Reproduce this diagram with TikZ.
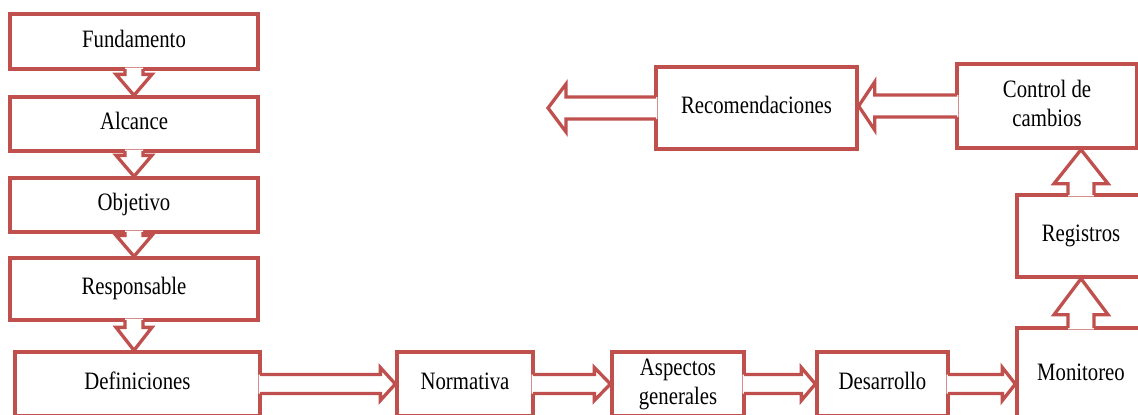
\documentclass[tikz,border=0pt]{standalone}
\usepackage{fontspec}
\setmainfont{Liberation Serif}
\usetikzlibrary{calc}
\definecolor{boxred}{HTML}{C0504D}
\tikzset{
  box/.style={draw=boxred, line width=3.3pt, fill=white, inner sep=0pt,
    text=black, font=\fontsize{25}{29}\selectfont},
  arrline/.style={draw=boxred, line width=3.3pt, line join=miter},
}
\newcommand\lbl[1]{\scalebox{0.83}[1]{\begin{tabular}{@{}c@{}}#1\end{tabular}}}
% block arrow: #1 start, #2 tip, #3 shaft half width, #4 head half width, #5 head length
\newcommand\barrow[5]{%
  \path let \p1=(#1), \p2=(#2),
    \n1={veclen(\x2-\x1,\y2-\y1)},
    \n2={(\x2-\x1)/\n1}, \n3={(\y2-\y1)/\n1},
    \n4={\n1-(#5)} in
    coordinate (q1) at ({\x1-3*\n2-(#3)*\n3},{\y1-3*\n3+(#3)*\n2})
    coordinate (r1) at ({\x1-1.65*\n2-(#3)*\n3},{\y1-1.65*\n3+(#3)*\n2})
    coordinate (q2) at ({\x1+\n4*\n2-(#3)*\n3},{\y1+\n4*\n3+(#3)*\n2})
    coordinate (q3) at ({\x1+\n4*\n2-(#4)*\n3},{\y1+\n4*\n3+(#4)*\n2})
    coordinate (q4) at (\p2)
    coordinate (q5) at ({\x1+\n4*\n2+(#4)*\n3},{\y1+\n4*\n3-(#4)*\n2})
    coordinate (q6) at ({\x1+\n4*\n2+(#3)*\n3},{\y1+\n4*\n3-(#3)*\n2})
    coordinate (r7) at ({\x1-1.65*\n2+(#3)*\n3},{\y1-1.65*\n3-(#3)*\n2})
    coordinate (q7) at ({\x1-3*\n2+(#3)*\n3},{\y1-3*\n3-(#3)*\n2});
  \fill[white] (q1) -- (q2) -- (q3) -- (q4) -- (q5) -- (q6) -- (q7) -- cycle;
  \draw[arrline] (r1) -- (q2) -- (q3) -- (q4) -- (q5) -- (q6) -- (r7);
}
\begin{document}
\begin{tikzpicture}[x=1pt,y=-1pt]
\useasboundingbox (0,0) rectangle (1138,415);
\clip (0,0) rectangle (1138,415);
\fill[white] (0,0) rectangle (1138,415);
% left column
\node[box, minimum width=248pt, minimum height=55pt] (fund) at (134,41.5) {\lbl{Fundamento}};
\node[box, minimum width=248pt, minimum height=54pt] (alc) at (134,124) {\lbl{Alcance}};
\node[box, minimum width=248pt, minimum height=54pt] (obj) at (134,205) {\lbl{Objetivo}};
\node[box, minimum width=248pt, minimum height=62pt] (resp) at (134,289) {\lbl{Responsable}};
% bottom row
\node[box, minimum width=245pt, minimum height=64pt] (def) at (137.5,384) {\lbl{Definiciones}};
\node[box, minimum width=136pt, minimum height=64pt] (norm) at (465,384) {\lbl{Normativa}};
\node[box, minimum width=132pt, minimum height=64pt] (asp) at (678,384) {\lbl{Aspectos\\generales}};
\node[box, minimum width=131pt, minimum height=64pt] (des) at (882.5,384) {\lbl{Desarrollo}};
\node[box, minimum width=128pt, minimum height=94pt] (mon) at (1081,375) {\lbl{Monitoreo}};
% right column and top row
\node[box, minimum width=128pt, minimum height=82pt] (reg) at (1081,236) {\lbl{Registros}};
\node[box, minimum width=180pt, minimum height=84pt] (ctrl) at (1047,106) {\lbl{Control de\\cambios}};
\node[box, minimum width=201pt, minimum height=82pt] (rec) at (756.5,108) {\lbl{Recomendaciones}};
\coordinate (out) at (548,108);
% arrows
\barrow{fund.south}{fund.south |- alc.north}{9}{18}{21}
\barrow{alc.south}{alc.south |- obj.north}{9}{18}{21}
\barrow{obj.south}{obj.south |- resp.north}{9}{18}{21}
\barrow{resp.south}{resp.south |- def.north}{9}{18}{23}
\barrow{def.east}{def.east -| norm.west}{9.5}{16.5}{15}
\barrow{norm.east}{norm.east -| asp.west}{9.5}{16.5}{16}
\barrow{asp.east}{asp.east -| des.west}{9.5}{16.5}{14}
\barrow{des.east}{des.east -| mon.west}{9.5}{16.5}{13}
\barrow{mon.north}{mon.north |- reg.south}{13}{27}{36}
\barrow{reg.north}{reg.north |- ctrl.south}{13}{27}{34}
\barrow{ctrl.west}{ctrl.west -| rec.east}{11}{24}{16}
\barrow{rec.west}{out}{11}{24}{18}
\end{tikzpicture}
\end{document}
